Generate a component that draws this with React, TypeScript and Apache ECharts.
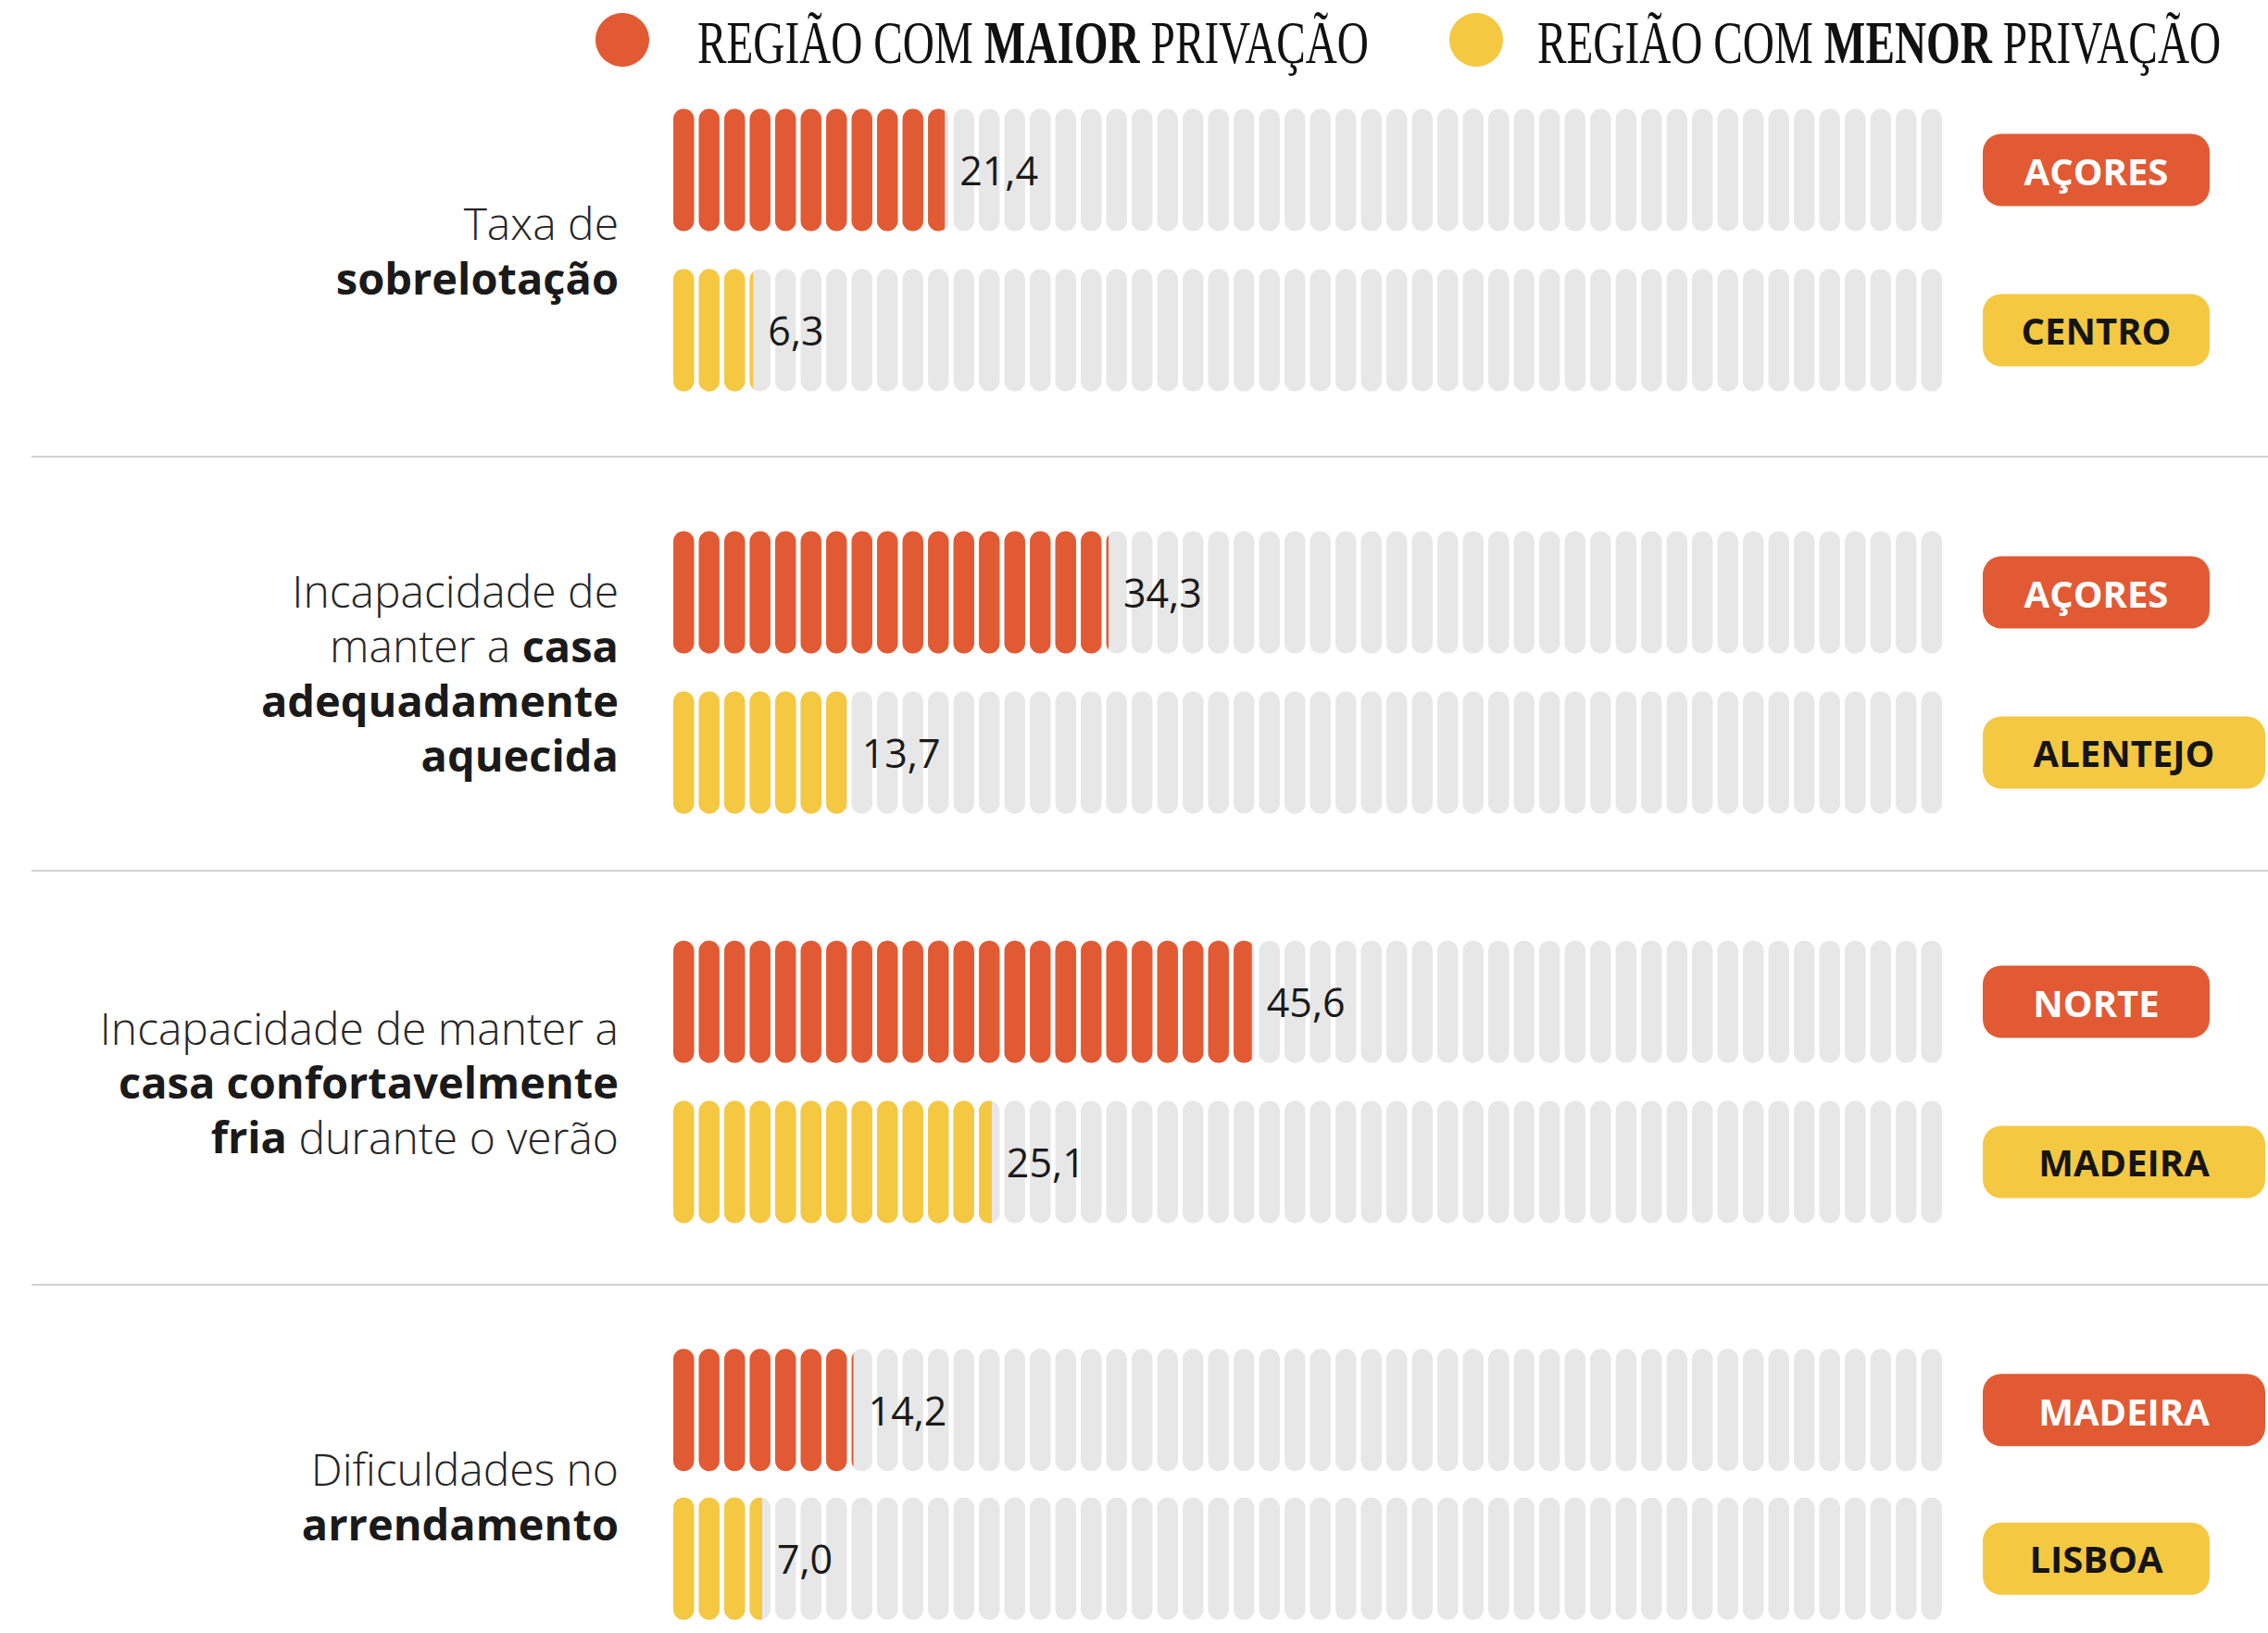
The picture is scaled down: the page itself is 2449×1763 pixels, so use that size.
import React, { useEffect, useRef } from 'react';
import * as echarts from 'echarts';

// ---------- data ----------
const indicatorLines: string[][] = [
  ['{n|Taxa de}', '{b|sobrelotação}'],
  ['{n|Incapacidade de}', '{n|manter a }{b|casa}', '{b|adequadamente}', '{b|aquecida}'],
  ['{n|Incapacidade de manter a}', '{b|casa confortavelmente}', '{b|fria}{n| durante o verão}'],
  ['{n|Dificuldades no}', '{b|arrendamento}'],
];
const maiorRegions = ['AÇORES', 'AÇORES', 'NORTE', 'MADEIRA'];
const maiorValues = [21.4, 34.3, 45.6, 14.2];
const menorRegions = ['CENTRO', 'ALENTEJO', 'MADEIRA', 'LISBOA'];
const menorValues = [6.3, 13.7, 25.1, 7.0];
const legendParts = [
  ['REGIÃO COM ', 'MAIOR', ' PRIVAÇÃO'],
  ['REGIÃO COM ', 'MENOR', ' PRIVAÇÃO'],
];
const SCALE_MAX = 100;
const SEGMENTS = 50;

// ---------- style / layout ----------
const RED = '#E15A34';
const YELLOW = '#F5C842';
const GREY = '#E7E7E7';
const W = 2449;
const H = 1763;
const groupCenters = [270, 726, 1168, 1615];
const ROW_PITCH = 173;
const separatorsY = [493, 940, 1387];
const BAR_LEFT = 727;
const BAR_WIDTH = 1370;
const SEG_SIZE = [22.5, 132];
const capsule = 'path://M0 11A11 11 0 0 1 22 11L22 121A11 11 0 0 1 0 121Z';
const LABEL_RIGHT_X = 668;
const legendCircles = [672, 1594];
const legendTextX = [753, 1660];

const fmt = (v: number) => v.toFixed(1).replace('.', ',');

function buildOption() {
  const grids = groupCenters.map((c) => ({
    left: BAR_LEFT,
    width: BAR_WIDTH,
    top: c - ROW_PITCH,
    height: ROW_PITCH * 2,
  }));

  const tagBase = {
    fontFamily: 'Open Sans',
    fontWeight: 'bold' as const,
    fontSize: 40,
    lineHeight: 44,
    borderRadius: 20,
    align: 'center' as const,
  };
  const tagRich = {
    r: { ...tagBase, color: '#ffffff', backgroundColor: RED, width: 165, padding: [20, 40, 18, 40] },
    rw: { ...tagBase, color: '#ffffff', backgroundColor: RED, width: 205, padding: [20, 50, 18, 50] },
    y: { ...tagBase, color: '#151515', backgroundColor: YELLOW, width: 165, padding: [19, 40] },
    yw: { ...tagBase, color: '#151515', backgroundColor: YELLOW, width: 205, padding: [19, 50] },
  };

  const xAxis = groupCenters.map((_, i) => ({
    type: 'value',
    gridIndex: i,
    min: 0,
    max: SCALE_MAX,
    show: false,
  }));
  const yAxis = groupCenters.map((_, i) => ({
    type: 'category',
    gridIndex: i,
    data: [maiorRegions[i], menorRegions[i]],
    inverse: true,
    position: 'right',
    axisLine: { show: false },
    axisTick: { show: false },
    splitLine: { show: false },
    axisLabel: {
      margin: 44,
      formatter: (v: string, idx: number) =>
        `{${idx === 0 ? 'r' : 'y'}${v.length > 6 ? 'w' : ''}|${v}}`,
      rich: tagRich,
    },
  }));

  const series: any[] = [];
  groupCenters.forEach((_, i) => {
    series.push({
      type: 'pictorialBar',
      xAxisIndex: i,
      yAxisIndex: i,
      silent: true,
      data: [SCALE_MAX, SCALE_MAX],
      symbol: capsule,
      symbolSize: SEG_SIZE,
      symbolRepeat: SEGMENTS,
      symbolBoundingData: SCALE_MAX,
      barGap: '-100%',
      itemStyle: { color: GREY },
      z: 1,
    });
    series.push({
      type: 'pictorialBar',
      xAxisIndex: i,
      yAxisIndex: i,
      data: [
        { value: maiorValues[i], itemStyle: { color: RED } },
        { value: menorValues[i], itemStyle: { color: YELLOW } },
      ],
      symbol: capsule,
      symbolSize: SEG_SIZE,
      symbolRepeat: SEGMENTS,
      symbolBoundingData: SCALE_MAX,
      symbolClip: true,
      barGap: '-100%',
      z: 2,
    });
    // invisible bar carrying the value labels at the value's end
    series.push({
      type: 'bar',
      xAxisIndex: i,
      yAxisIndex: i,
      silent: true,
      data: [maiorValues[i], menorValues[i]],
      barWidth: SEG_SIZE[1],
      itemStyle: { color: 'rgba(0,0,0,0)' },
      z: 3,
      label: {
        show: true,
        position: 'right',
        distance: 16,
        formatter: (p: any) => fmt(p.value),
        fontFamily: 'Open Sans',
        fontSize: 43,
        color: '#1a1a1a',
      },
    });
  });

  const graphic: any[] = [];
  // legend
  legendParts.forEach((parts, k) => {
    graphic.push({
      type: 'circle',
      shape: { cx: legendCircles[k], cy: 43, r: 29 },
      style: { fill: k === 0 ? RED : YELLOW },
    });
    graphic.push({
      type: 'text',
      x: legendTextX[k],
      y: 46,
      scaleX: 0.716,
      style: {
        text: `{n|${parts[0]}}{b|${parts[1]}}{n|${parts[2]}}`,
        verticalAlign: 'middle',
        align: 'left',
        rich: {
          n: { fontFamily: 'Liberation Serif', fontSize: 66, fill: '#111111' },
          b: { fontFamily: 'Liberation Serif', fontSize: 66, fontWeight: 'bold', fill: '#111111' },
        },
      },
    });
  });
  // indicator labels
  indicatorLines.forEach((lines, i) => {
    graphic.push({
      type: 'text',
      x: LABEL_RIGHT_X,
      y: groupCenters[i],
      style: {
        text: lines.join('\n'),
        align: 'right',
        verticalAlign: 'middle',
        rich: {
          n: {
            fontFamily: 'Open Sans',
            fontWeight: 300,
            fontSize: 48,
            lineHeight: 59,
            fill: '#262626',
            align: 'right',
          },
          b: {
            fontFamily: 'Open Sans',
            fontWeight: 'bold',
            fontSize: 47,
            lineHeight: 59,
            fill: '#1a1a1a',
            align: 'right',
          },
        },
      },
    });
  });
  // separators
  separatorsY.forEach((y) => {
    graphic.push({
      type: 'line',
      shape: { x1: 34, y1: y, x2: W, y2: y },
      style: { stroke: '#D2D2D2', lineWidth: 2 },
    });
  });

  return {
    animation: false,
    backgroundColor: '#ffffff',
    grid: grids,
    xAxis,
    yAxis,
    series,
    graphic,
  };
}

export default function App() {
  const ref = useRef<HTMLDivElement>(null);
  useEffect(() => {
    if (!ref.current) return;
    const chart = echarts.init(ref.current, undefined, { renderer: 'svg' });
    chart.setOption(buildOption() as any);
    return () => chart.dispose();
  }, []);
  return (
    <div
      ref={ref}
      style={{ position: 'absolute', left: 0, top: 0, width: W, height: H }}
    />
  );
}
